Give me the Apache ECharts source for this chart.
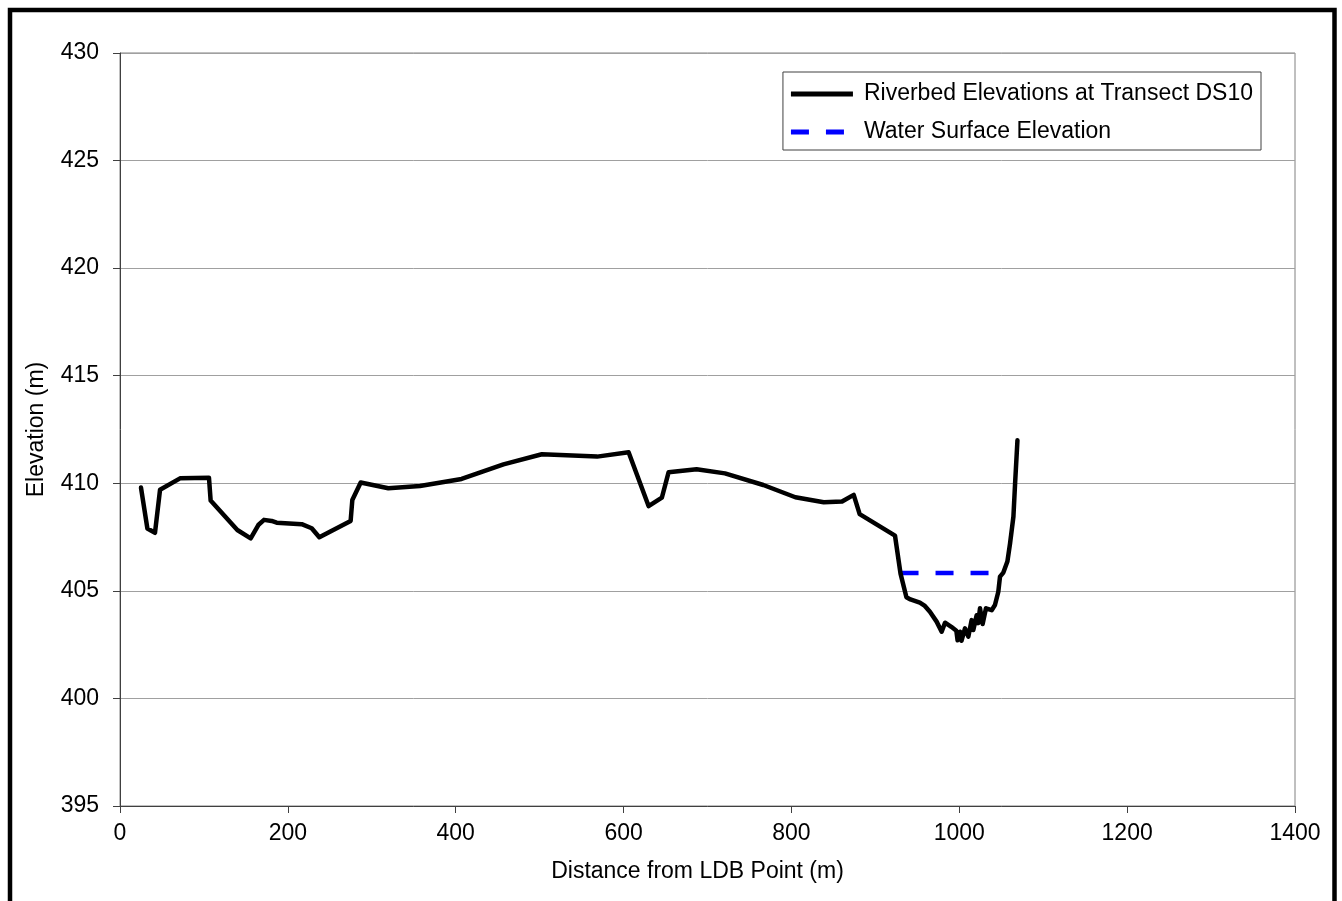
<!DOCTYPE html>
<html>
<head>
<meta charset="utf-8">
<script src="https://cdn.jsdelivr.net/npm/echarts@6/dist/echarts.min.js"></script>
<style>
html,body{margin:0;padding:0;background:#fff;}
#chart{width:1342px;height:901px;}
</style>
</head>
<body>
<div id="chart"></div>
<script>
var distance = [25, 32.6, 41.7, 47.7, 71.5, 106, 108, 139.8, 155.7, 164.8, 171.6, 180.7, 186.7, 216.5, 228.4, 237.5, 274.8, 276.8, 286.8, 319.7, 357.4, 407, 456.9, 502.6, 568.5, 606, 629.8, 645.6, 653.6, 687, 720.8, 766.5, 804.7, 838.5, 860.3, 874.2, 881.3, 923.4, 930, 937, 941.8, 953, 959, 965, 973, 979, 983, 990.5, 996.5, 998, 1001, 1002.6, 1006.8, 1010.8, 1014.7, 1016.7, 1020.7, 1022.5, 1024.7, 1027.8, 1031.8, 1038.6, 1042.5, 1046.5, 1048.5, 1052.5, 1057.3, 1060.5, 1064.5, 1066.5, 1069.3];
var elevation = [409.8, 407.9, 407.7, 409.7, 410.23, 410.26, 409.2, 407.83, 407.44, 408.06, 408.3, 408.25, 408.17, 408.1, 407.91, 407.49, 408.25, 409.22, 410.04, 409.77, 409.87, 410.2, 410.88, 411.35, 411.24, 411.44, 408.94, 409.33, 410.51, 410.65, 410.46, 409.92, 409.35, 409.12, 409.15, 409.46, 408.57, 407.57, 405.8, 404.7, 404.6, 404.45, 404.3, 404.03, 403.57, 403.1, 403.52, 403.33, 403.15, 402.7, 403.1, 402.68, 403.26, 402.87, 403.64, 403.18, 403.87, 403.5, 404.19, 403.46, 404.19, 404.1, 404.34, 404.96, 405.66, 405.85, 406.36, 407.21, 408.45, 410.0, 412.0];
var waterDistance = [930, 1050];
var waterElevation = [405.83, 405.83];
var seriesNames = ['Riverbed Elevations at Transect DS10', 'Water Surface Elevation'];

function pairs(xs, ys){ return xs.map(function(x,i){ return [x, ys[i]]; }); }

var chart = echarts.init(document.getElementById('chart'), null, {renderer:'canvas'});
var font = 'Liberation Sans, Arial, sans-serif';
var fs = 23;
chart.setOption({
  animation:false,
  backgroundColor:'#fff',
  textStyle:{fontFamily:font, color:'#000'},
  grid:{left:120, top:53, right:47, bottom:95, show:true, borderColor:'#808080', borderWidth:1},
  legend:{
    orient:'vertical', right:81, top:72,
    padding:[10,8,6,8], itemGap:14, itemWidth:62, itemHeight:5,
    borderColor:'#404040', borderWidth:1, backgroundColor:'#fff',
    itemStyle:{borderWidth:0},
    textStyle:{fontSize:fs, fontFamily:font, color:'#000', lineHeight:24, padding:[0,0,0,6]},
    data:[
      {name:seriesNames[0], icon:'rect'},
      {name:seriesNames[1], icon:'path://M0,0h18v5h-18zM35,0h18v5h-18zM62,0L62,5'}
    ]
  },
  xAxis:{
    type:'value', min:0, max:1400, interval:200,
    name:'Distance from LDB Point (m)', nameLocation:'middle', nameGap:54,
    nameTextStyle:{fontSize:fs, fontFamily:font, color:'#000', padding:[0,20,0,0]},
    axisLine:{lineStyle:{color:'#404040', width:1}},
    axisTick:{show:true, length:7, lineStyle:{color:'#404040'}},
    axisLabel:{fontSize:fs, fontFamily:font, color:'#000', margin:16, formatter:function(v){return String(v);}},
    splitLine:{show:false}
  },
  yAxis:{
    type:'value', min:395, max:430, interval:5,
    name:'Elevation (m)', nameLocation:'middle', nameGap:72, nameRotate:90,
    nameTextStyle:{fontSize:fs, fontFamily:font, color:'#000'},
    axisLine:{show:true, lineStyle:{color:'#404040', width:1}},
    axisTick:{show:true, length:7, lineStyle:{color:'#404040'}},
    axisLabel:{fontSize:fs, fontFamily:font, color:'#000', margin:21},
    splitLine:{show:true, lineStyle:{color:'#a0a0a0', width:1}}
  },
  series:[
    {name:seriesNames[0], type:'line', data:pairs(distance, elevation), showSymbol:false, symbol:'none',
     lineStyle:{color:'#000', width:4.5, join:'round', cap:'round'}, itemStyle:{color:'#000'}, z:3},
    {name:seriesNames[1], type:'line', data:pairs(waterDistance, waterElevation), showSymbol:false, symbol:'none',
     lineStyle:{color:'#0000ff', width:4.5, type:[18,17]}, itemStyle:{color:'#0000ff'}, z:2}
  ],
  graphic:[{type:'rect', shape:{x:10, y:10, width:1324.5, height:1000}, style:{fill:'none', stroke:'#000', lineWidth:4.5}, z:100}]
});
</script>
</body>
</html>
